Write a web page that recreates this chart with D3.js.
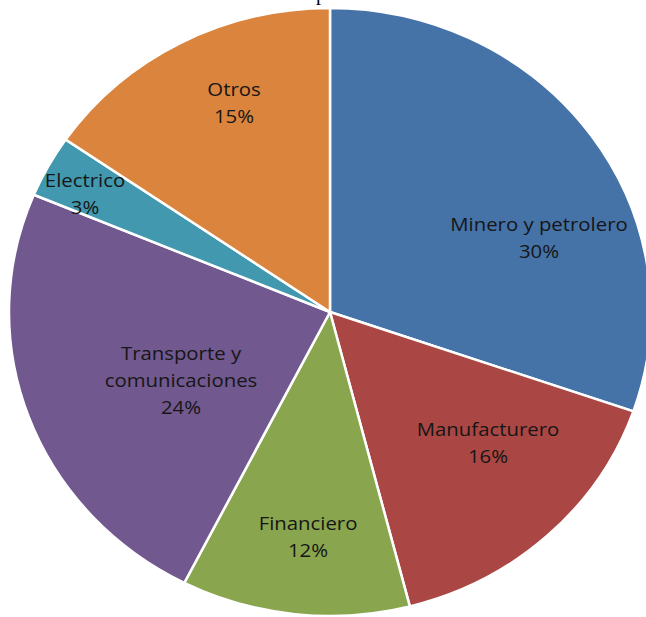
<!DOCTYPE html>
<html><head><meta charset="utf-8">
<script src="https://cdn.jsdelivr.net/npm/d3@7"></script>
<style>body{margin:0;background:#fff}svg{display:block}</style>
</head><body>
<svg id="c" width="646" height="617"></svg>
<script>
const categories = ["Minero y petrolero","Manufacturero","Financiero","Transporte y comunicaciones","Electrico","Otros"];
const values = [30.3, 15.7, 11.5, 23.8, 3.3, 15.4];
const percentLabels = ["30%","16%","12%","24%","3%","15%"];
const colors = ["#4572A7","#AA4643","#89A54E","#71588F","#4198AF","#DB843D"];
const labelLines = [["Minero y petrolero"],["Manufacturero"],["Financiero"],["Transporte y","comunicaciones"],["Electrico"],["Otros"]];

const cx = 330, cy = 312, rx = 321, ry = 304;
// label anchor positions (in chart pixels)
const labelPos = [[539,238],[488,443],[308,537],[181,381],[85,194],[234,103]];

const svg = d3.select("#c");
const pie = d3.pie().sort(null).value(d => d)(values);
const arc = d3.arc().innerRadius(0).outerRadius(ry);

const g = svg.append("g").attr("transform", `translate(${cx},${cy}) scale(${rx/ry},1)`);
g.selectAll("path").data(pie).join("path")
  .attr("d", arc)
  .attr("fill", (d,i) => colors[i])
  .attr("stroke", "#fff")
  .attr("stroke-width", 2.5)
  .attr("vector-effect", "non-scaling-stroke");

// cut-off title descender (title lies above the visible area, as in the reference)
svg.append("text").attr("x", 321).attr("y", 0).attr("text-anchor","middle")
  .attr("font-family","Liberation Serif").attr("font-size",20).attr("fill","#000").text("p");

const lg = svg.append("g").attr("font-family","'Open Sans', sans-serif").attr("font-size",18.5).attr("fill","#161616").attr("text-anchor","middle");
categories.forEach((c,i) => {
  const lines = labelLines[i].concat([percentLabels[i]]);
  const lh = 27;
  const [x,y] = labelPos[i];
  const y0 = -(lines.length-1)*lh/2;
  const t = lg.append("text").attr("transform", `translate(${x},${y}) scale(1.1,1)`);
  lines.forEach((l,j) => {
    t.append("tspan").attr("x", 0).attr("y", y0 + j*lh).attr("dy","0.35em").text(l);
  });
});
</script>
</body></html>
